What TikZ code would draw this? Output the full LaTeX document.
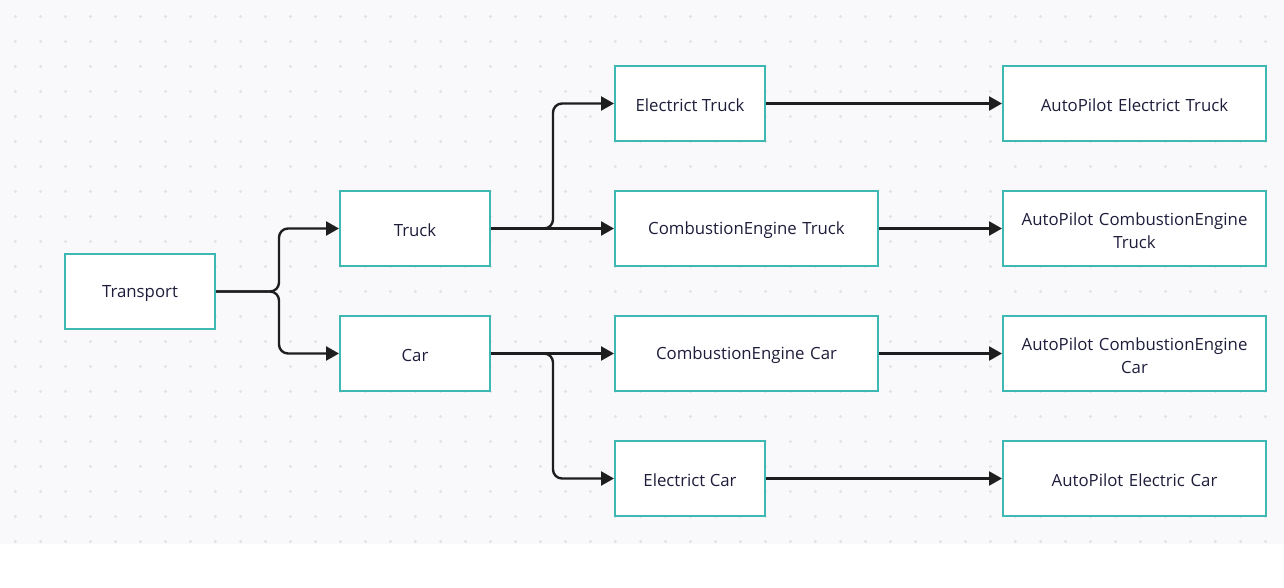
\documentclass[tikz,border=0pt]{standalone}
\usepackage{fontspec}
\setmainfont{Open Sans}
\usetikzlibrary{arrows.meta}
\definecolor{bgc}{HTML}{F9F9FB}
\definecolor{dotc}{HTML}{E1E1E6}
\definecolor{teal}{HTML}{3DB8B3}
\definecolor{txt}{HTML}{1E1E3C}
\definecolor{linec}{HTML}{1E1E1E}
\begin{document}
\begin{tikzpicture}[x=1pt,y=-1pt,
  box/.style={draw=teal, line width=2pt, fill=white, inner sep=0pt,
    minimum height=75pt, text=txt, font=\fontsize{16.8}{23}\selectfont, align=center,
    execute at begin node={\rule{0pt}{16.5pt}}},
  sbox/.style={box, minimum width=150pt},
  wbox/.style={box, minimum width=263pt, text width=255pt},
  conn/.style={draw=linec, line width=2.4pt, rounded corners=9pt,
    -{Triangle[length=13pt,width=14pt]}}]
\useasboundingbox (0,0) rectangle (1284,588);
\fill[bgc] (0,0) rectangle (1284,544);
\foreach \i in {0,...,51}{
  \foreach \j in {0,...,21}{
    \fill[dotc] (15.5+25*\i,16.5+25*\j) circle (1.6);
  }
}
\node[sbox] (transport) at (140,291.5) {Transport};
\node[sbox] (truck) at (415,228.5) {Truck};
\node[sbox] (car) at (415,353.5) {Car};
\node[sbox] (etruck) at (690,103.5) {Electrict Truck};
\node[wbox] (cetruck) at (746.5,228.5) {CombustionEngine Truck};
\node[wbox] (cecar) at (746.5,353.5) {CombustionEngine Car};
\node[sbox] (ecar) at (690,478.5) {Electrict Car};
\node[wbox] (apet) at (1134.5,103.5) {AutoPilot Electrict Truck};
\node[wbox] (apcet) at (1134.5,228.5) {AutoPilot CombustionEngine\\Truck};
\node[wbox] (apcec) at (1134.5,353.5) {AutoPilot CombustionEngine\\Car};
\node[wbox] (apec) at (1134.5,478.5) {AutoPilot Electric Car};
\path[conn] (transport.east) -- ++(63,0) |- (truck.west);
\path[conn] (transport.east) -- ++(63,0) |- (car.west);
\path[conn] (truck.east) -- ++(62,0) |- (etruck.west);
\path[conn] (truck.east) -- (cetruck.west);
\path[conn] (car.east) -- (cecar.west);
\path[conn] (car.east) -- ++(62,0) |- (ecar.west);
\path[conn] (etruck.east) -- (apet.west);
\path[conn] (cetruck.east) -- (apcet.west);
\path[conn] (cecar.east) -- (apcec.west);
\path[conn] (ecar.east) -- (apec.west);
\end{tikzpicture}
\end{document}
